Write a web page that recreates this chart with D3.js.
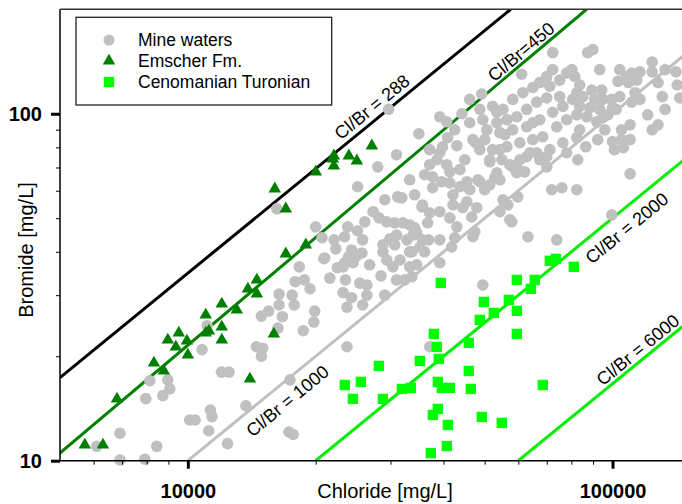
<!DOCTYPE html>
<html>
<head>
<meta charset="utf-8">
<script src="https://cdn.jsdelivr.net/npm/d3@7"></script>
<style>
  body { margin: 0; background: #fff; }
  svg { display: block; font-family: "Liberation Sans", Arial, sans-serif; }
</style>
</head>
<body>
<div class="chart"></div>
<script>
// Mine waters [Cl, Br] in mg/L
const mineWaters = [
  [6100,11.0],[6920,12.0],[6920,10.05],[7920,10.1],[8450,11.0],[7960,15.1],[8730,15.4],[9070,16.1],[8970,17.1],[8140,17.0],
  [10800,20.9],[11100,24.5],[14500,21.3],[15000,21.1],[14900,20.0],[12000,18.0],[12500,18.0],[11300,14.0],[11400,13.4],[10100,13.1],
  [10400,13.1],[11200,12.2],[12400,11.2],[13700,14.4],[17400,17.1],[17300,12.1],[17700,11.9],
  [16200,53.2],[20000,47.2],[20700,43.9],[20900,38.2],[18300,36.2],[17900,32.8],[18800,33.2],[19400,31.3],[16400,30.2],
  [17600,30.0],[16400,28.1],[17800,28.1],[15500,27.0],[14900,26.1],[16700,26.0],[19900,27.0],[19800,25.1],[18700,23.7],[16300,24.1],
  [22100,43.3],[22300,40.8],[23400,44.2],[23800,47.2],[25100,46.0],[25800,43.3],[24300,40.5],[23900,38.7],[25000,38.9],[25700,39.7],
  [21000,38.4],[23400,37.2],[22500,36.0],[23200,36.2],[24500,37.2],[21600,33.6],[23500,33.2],[25400,32.5],[23200,30.5],[24300,29.5],
  [26400,30.0],[26400,32.1],[23700,27.7],[25800,28.1],[29100,30.0],[28500,34.1],[31000,33.2],[28800,40.0],[29400,37.9],[30400,36.2],
  [29900,43.6],[31000,44.7],[28800,41.9],[31600,37.9],[33700,40.0],[33300,36.2],[33700,33.9],[34600,36.7],[36100,40.0],[35700,43.3],
  [36900,43.3],[32800,43.3],[23700,21.3],[37100,21.3],[49500,32.1],
  [25100,61.6],[28000,70.3],[31000,76.2],[31200,57.6],[27300,52.2],[28200,50.1],[29400,48.8],[30700,48.5],[31900,57.2],[33300,47.8],
  [34600,45.4],[35700,54.6],[37100,51.8],[39200,52.2],[41400,50.1],[43000,47.2],[36700,48.5],[46900,44.2],[47400,45.7],[47900,53.6],
  [46600,50.4],[45400,55.7],[42100,58.4],[46100,60.4],[48700,63.7],[50000,60.4],[52800,65.4],[54300,52.2],[56700,54.6],[57300,49.5],
  [55200,56.5],[59800,57.6],[59500,67.6],[63200,44.2],[73900,43.3],[71900,60.4],[76000,61.2],[82400,60.4],[99600,51.1],[110000,67.1],
  [37100,71.3],[37700,65.8],[41400,68.0],[33300,64.5],[37100,78.8],[39200,77.2],[37700,61.2],[39600,63.7],[41400,63.2],[43700,61.6],
  [45400,63.7],[48200,64.5],[51400,62.4],[53400,67.6],[54300,64.5],[51400,73.7],[54900,73.7],[54300,78.8],[57300,71.3],[59500,69.9],
  [62100,68.0],[62800,75.2],[66300,77.2],[70000,75.2],[48700,78.8],[35600,53.9],[42100,54.6],[44400,53.6],[32100,48.5],[34200,46.9],
  [33900,44.7],[35200,41.3],[33300,40.0],[41800,41.3],[39200,37.2],[57900,48.8],
  [29700,103],[35000,87.6],[39200,98.0],[40700,94.8],[39800,80.3],[40900,85.3],[72300,150],[49200,114],[44200,100],[43000,80.9],
  [52200,105],[55200,103],[58200,110],[61500,115],[64900,119],[67400,123],[70000,128],[71200,120],[75100,125],[78000,131],
  [75100,112],[70000,111],[66300,108],[62800,103],[59500,98.0],[56400,96.1],[53400,94.2],[49500,96.1],[50600,89.9],[54300,88.2],
  [58200,89.9],[62800,91.7],[67400,96.1],[72300,101],[76400,105],[78000,96.1],[73900,91.7],[68500,85.8],[64900,84.2],[60500,82.5],
  [56400,80.3],[52200,78.8],[71200,78.8],[76400,82.5],[78000,77.2],[46100,94.2],[46900,84.2],[63900,77.2],
  [87400,150],[89900,153],[124000,141],[124000,132],[104000,134],[108000,128],[111000,131],[116000,132],[103000,124],[109000,123],
  [114000,125],[128000,123],[113000,115],[111000,108],[104000,112],[99600,110],[100000,104],[80200,134],[81500,128],[83700,121],
  [89400,117],[94300,117],[82400,115],[85100,112],[90800,110],[94900,110],[80600,110],[83700,105],[88400,104],[93300,103],
  [82400,99.3],[87000,98.0],[94900,97.4],[91800,94.8],[95900,89.9],[82400,85.3],[105000,89.9],[110000,92.9],[124000,89.9],[128000,92.9],
  [100000,83.1],[106000,79.8],[101000,78.8],[86500,80.3],[67400,73.7],[70000,70.3],[105000,84.2],[110000,84.2],[133000,134],[141000,132],
  [142000,121],[131000,112],[144000,111],[58200,70.3],[51400,72.7],[38600,73.7],[40700,71.3],[47600,82.5],[64900,94.2],[48700,103],
  [53400,101],[83700,89.9],[72300,134],[102000,103],[97500,99.3],
  [42500,89.9],[44900,73.7],[36100,66.7],[34200,58.4],[29100,56.5],[26100,48.8],[39200,43.3],[42500,43.9],[60500,73.7],[82800,73.7],
  [92300,84.2],[116000,110],[121000,99.3],[133000,103],[46100,110],[61100,130],[93300,134],[55800,87.0],[50000,84.2],[43700,69.0],
  [30700,41.9],[26800,36.7],[32400,33.2]
];

// Emscher Fm. [Cl, Br]
const emscher = [
  [5720,11.1],[6310,11.1],[6810,15.07],[8320,19.13],[8780,18.14],[8970,22.29],[9370,21.28],[9520,23.35],[9950,22.14],[10000,20.18],
  [11020,26.32],[11020,23.35],[11210,23.66],[12020,28.31],[12020,24.30],[12020,22.29],[13040,27.20],[13850,31.28],[14540,33.20],[14540,30.26],
  [14000,17.20],[15940,23.20],[17010,39.47],[18960,41.90],[16020,60.76],[17010,53.21],[20010,68.02],[21950,74.17],[22070,70.79],[22070,75.66],
  [23940,75.66],[25000,73.18],[27120,80.85]
];

// Cenomanian Turonian [Cl, Br]
const cenoTuronian = [
  [39420,32.54],[59530,33.2],[65610,33.2],[64210,31.28],[71180,37.67],[73530,38.17],[81060,36.2],[49770,28.69],[57000,29.08],[52540,26.67],
  [59530,27.03],[48690,25.46],[37950,23.2],[59530,23.2],[28170,18.76],[35180,19.39],[38990,19.65],[38570,21.28],[45880,21.85],[45880,18.14],
  [23420,16.53],[25550,16.87],[24470,15.07],[28790,15.07],[31910,16.1],[33500,16.21],[38780,16.87],[39630,16.21],[41390,16.21],[46380,16.1],
  [68530,16.53],[37750,13.55],[38780,14.1],[40950,12.68],[49220,13.37],[54870,12.85],[40730,11.02],[37340,10.52]
];

// Cl/Br reference lines: label and end points [Cl, Br] as drawn
const ratioLabels = ["Cl/Br = 288", "Cl/Br=450", "Cl/Br = 1000", "Cl/Br = 2000", "Cl/Br = 6000"];
const ratioEnds = [
  [[5000, 17.36], [57600, 200]],
  [[4940, 10.4], [86900, 200]],
  [[10000, 10], [150000, 150]],
  [[20000, 10], [150000, 75]],
  [[60000, 10], [150000, 25]]
];

const xMajor = [10000, 100000];
const xMinor = [6000, 7000, 8000, 9000, 20000, 30000, 40000, 50000, 60000, 70000, 80000, 90000];
const yMajor = [10, 100];
const yMinor = [20, 30, 40, 50, 60, 70, 80, 90];

const W = 682, H = 504;
const L = 60, R = 687.3, T = 9.3, B = 460.7;

const x = d3.scaleLog().domain([5000, 150000]).range([L, R]);
const y = d3.scaleLog().domain([10, 200]).range([B, T]);

const svg = d3.select(".chart").append("svg")
  .attr("width", W).attr("height", H);

svg.append("defs").append("clipPath").attr("id", "plot")
  .append("rect").attr("x", L).attr("y", T).attr("width", R - L).attr("height", B - T);

// reference lines
const lineColors = ["#000000", "#008000", "#c0c0c0", "#00ee00", "#00ee00"];
const gl = svg.append("g").attr("clip-path", "url(#plot)");
ratioEnds.forEach((e, i) => {
  gl.append("line")
    .attr("x1", x(e[0][0])).attr("y1", y(e[0][1]))
    .attr("x2", x(e[1][0])).attr("y2", y(e[1][1]))
    .attr("stroke", lineColors[i]).attr("stroke-width", 3);
});

// labels along the lines: Cl of foot point, baseline offset (negative = above)
const labelAt = [[28300, -6], [63000, -3.5], [16200, 23], [102000, 23], [118800, -4]];
ratioEnds.forEach((e, i) => {
  const x1 = x(e[0][0]), y1 = y(e[0][1]), x2 = x(e[1][0]), y2 = y(e[1][1]);
  const px = x(labelAt[i][0]);
  const py = y1 + (px - x1) * (y2 - y1) / (x2 - x1);
  const ang = Math.atan2(y2 - y1, x2 - x1) * 180 / Math.PI;
  svg.append("text")
    .attr("transform", `translate(${px},${py}) rotate(${ang})`)
    .attr("y", labelAt[i][1])
    .attr("text-anchor", "middle")
    .attr("font-size", 18)
    .attr("fill", "#000")
    .text(ratioLabels[i]);
});

// points
svg.append("g").selectAll("circle")
  .data(mineWaters).enter().append("circle")
  .attr("cx", d => x(d[0])).attr("cy", d => y(d[1]))
  .attr("r", 5.8).attr("fill", "#c0c0c0");

const tri = d3.symbol().type(d3.symbolTriangle).size(68);
svg.append("g").selectAll("path")
  .data(emscher).enter().append("path")
  .attr("d", tri)
  .attr("transform", d => `translate(${x(d[0])},${y(d[1])})`)
  .attr("fill", "#008000");

const sq = d3.symbol().type(d3.symbolSquare).size(108);
svg.append("g").selectAll("path")
  .data(cenoTuronian).enter().append("path")
  .attr("d", sq)
  .attr("transform", d => `translate(${x(d[0])},${y(d[1])})`)
  .attr("fill", "#00ff00");

// axes
const ax = svg.append("g").attr("transform", `translate(0,${B})`);
ax.call(d3.axisBottom(x).tickValues(xMinor).tickSize(4).tickFormat(""));
const axM = svg.append("g").attr("transform", `translate(0,${B})`);
axM.call(d3.axisBottom(x).tickValues(xMajor).tickSize(8).tickFormat(d3.format("d")));
axM.selectAll(".tick line").attr("stroke-width", 3);
axM.selectAll(".tick text").attr("y", 37.3).attr("dy", 0)
  .attr("font-size", 20).attr("font-weight", "bold").attr("fill", "#000");
[ax, axM].forEach(a => { a.select(".domain").remove(); a.attr("font-family", null); });

const ay = svg.append("g").attr("transform", `translate(${L},0)`);
ay.call(d3.axisLeft(y).tickValues(yMinor).tickSize(4).tickFormat(""));
const ayM = svg.append("g").attr("transform", `translate(${L},0)`);
ayM.call(d3.axisLeft(y).tickValues(yMajor).tickSize(9).tickPadding(9).tickFormat(d3.format("d")));
ayM.selectAll(".tick line").attr("stroke-width", 3);
ayM.selectAll(".tick text").attr("font-size", 20).attr("font-weight", "bold").attr("fill", "#000");
[ay, ayM].forEach(a => { a.select(".domain").remove(); a.attr("font-family", null); });

// frame
svg.append("line").attr("x1", L).attr("y1", T).attr("x2", L).attr("y2", B)
  .attr("stroke", "#000").attr("stroke-width", 1.5);
svg.append("line").attr("x1", L).attr("y1", B).attr("x2", W).attr("y2", B)
  .attr("stroke", "#000").attr("stroke-width", 1.5);
svg.append("line").attr("x1", L).attr("y1", T).attr("x2", W).attr("y2", T)
  .attr("stroke", "#333").attr("stroke-width", 1.5);

// axis titles
svg.append("text").attr("x", 385).attr("y", 498).attr("text-anchor", "middle")
  .attr("font-size", 20).text("Chloride [mg/L]");
svg.append("text").attr("transform", "translate(33,250) rotate(-90)").attr("text-anchor", "middle")
  .attr("font-size", 20).text("Bromide [mg/L]");

// legend
const lg = svg.append("g");
lg.append("rect").attr("x", 76).attr("y", 17.3).attr("width", 255.7).attr("height", 87.7)
  .attr("fill", "#fff").attr("stroke", "#222").attr("stroke-width", 1.3);
const items = ["Mine waters", "Emscher Fm.", "Cenomanian Turonian"];
const ly = [40, 61, 82];
lg.append("circle").attr("cx", 109).attr("cy", ly[0]).attr("r", 5.5).attr("fill", "#c0c0c0");
lg.append("path").attr("d", tri).attr("transform", `translate(109,${ly[1]})`).attr("fill", "#008000");
lg.append("path").attr("d", sq).attr("transform", `translate(109,${ly[2]})`).attr("fill", "#00ff00");
items.forEach((t, i) => {
  lg.append("text").attr("x", 138).attr("y", ly[i] + 6.3).attr("font-size", 17.5).text(t);
});
</script>
</body>
</html>
